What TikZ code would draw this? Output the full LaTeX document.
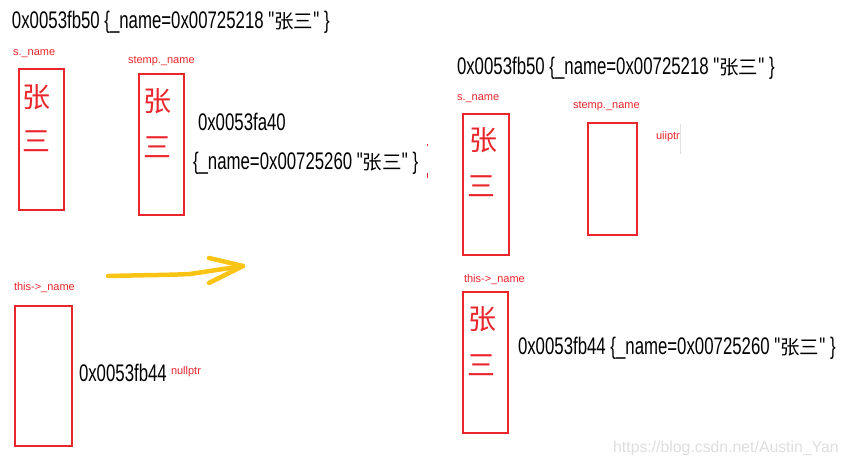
\documentclass[tikz,border=0pt]{standalone}
\usepackage{fontspec}
\setmainfont{Liberation Sans}
\newfontfamily\condf[FakeStretch=0.7]{Liberation Sans}
\newfontfamily\cjkf{Noto Sans CJK SC}
\definecolor{mred}{RGB}{234,38,44}
\definecolor{myel}{RGB}{250,196,20}
\definecolor{wmgray}{RGB}{222,222,222}
\newcommand{\zs}{{\cjkf\fontsize{19.5}{21}\selectfont 张三}}
\tikzset{
  addr/.style={anchor=base west, inner sep=0pt, outer sep=0pt, text=black,
    font=\condf\fontsize{24}{26}\selectfont},
  lbl/.style={anchor=base west, inner sep=0pt, outer sep=0pt, text=mred,
    font=\fontsize{11}{13}\selectfont},
  small/.style={anchor=base west, inner sep=0pt, outer sep=0pt, text=mred,
    font=\fontsize{11}{12}\selectfont},
  membox/.style={draw=mred, line width=1.6pt, anchor=north west,
    inner sep=0pt, outer sep=0pt},
  hand/.style={inner sep=0pt, text=mred, font=\cjkf\fontsize{28}{30}\selectfont},
  yarrow/.style={draw=myel, line width=4.5pt, line cap=round, line join=round},
}
\begin{document}
\begin{tikzpicture}[x=1pt,y=-1pt]
\fill[white] (0,0) rectangle (848,464);
\useasboundingbox (0,0) rectangle (848,464);

% ---------- left side ----------
\node[addr] (t1) at (12,28) {0x0053fb50 \{\_name=0x00725218 "\zs" \}};
\node[lbl] (l1) at (13,55) {s.\_name};
\node[lbl] (l2) at (128,63) {stemp.\_name};
\node[membox, minimum width=45pt, minimum height=141pt] (b1) at (19,69) {};
\node[membox, minimum width=45pt, minimum height=141pt] (b2) at (139,74) {};
\node[hand] (h1a) at ([shift={(18,28)}]b1.north west) {张};
\node[hand] (h1b) at ([shift={(18,72)}]b1.north west) {三};
\node[hand] (h2a) at ([shift={(18,27)}]b2.north west) {张};
\node[hand] (h2b) at ([shift={(18,73)}]b2.north west) {三};
\node[addr] (t2) at (198,130) {0x0053fa40};
\node[addr] (t3) at (193,169) {\{\_name=0x00725260 "\zs" \}};
\draw[mred, line width=0.8pt] (427,144) -- (427,146) (427,173) -- (427,178);

\node[lbl] (l3) at (14,290) {this->\_name};
\node[membox, minimum width=57pt, minimum height=140pt] (b3) at (15,306) {};
\node[addr] (t4) at (79,381) {0x0053fb44};
\node[small] (n1) at (171,374) {nullptr};

% ---------- yellow arrow ----------
\coordinate (as) at (108,276);
\coordinate (am) at (190,274);
\coordinate (at) at (243,266);
\coordinate (au) at (209,258);
\coordinate (ad) at (209,283);
\draw[yarrow] (as) .. controls (150,275) and (170,275) .. (am) -- (at);
\draw[yarrow] (au) -- (at) -- (ad);

% ---------- right side ----------
\node[addr] (t5) at (457,74) {0x0053fb50 \{\_name=0x00725218 "\zs" \}};
\node[lbl] (l4) at (457,100) {s.\_name};
\node[lbl] (l5) at (573,108) {stemp.\_name};
\node[membox, minimum width=46pt, minimum height=141pt] (b4) at (463,114) {};
\node[membox, minimum width=49pt, minimum height=112pt] (b5) at (588,123) {};
\node[hand] (h4a) at ([shift={(20,26)}]b4.north west) {张};
\node[hand] (h4b) at ([shift={(18,72)}]b4.north west) {三};
\node[small] (n2) at (656,139) {uiiptr};
\draw[black!12, line width=0.6pt] (680,124) -- (680,154);

\node[lbl] (l6) at (464,282) {this->\_name};
\node[membox, minimum width=45pt, minimum height=141pt] (b6) at (463,292) {};
\node[hand] (h6a) at ([shift={(19,27)}]b6.north west) {张};
\node[hand] (h6b) at ([shift={(18,73)}]b6.north west) {三};
\node[addr] (t6) at (518,354) {0x0053fb44 \{\_name=0x00725260 "\zs" \}};

% watermark
\node[anchor=base west, inner sep=0pt, text=wmgray, font=\fontsize{15.8}{17}\selectfont]
  (wm) at (613,452) {https://blog.csdn.net/Austin\_Yan};
\end{tikzpicture}
\end{document}
